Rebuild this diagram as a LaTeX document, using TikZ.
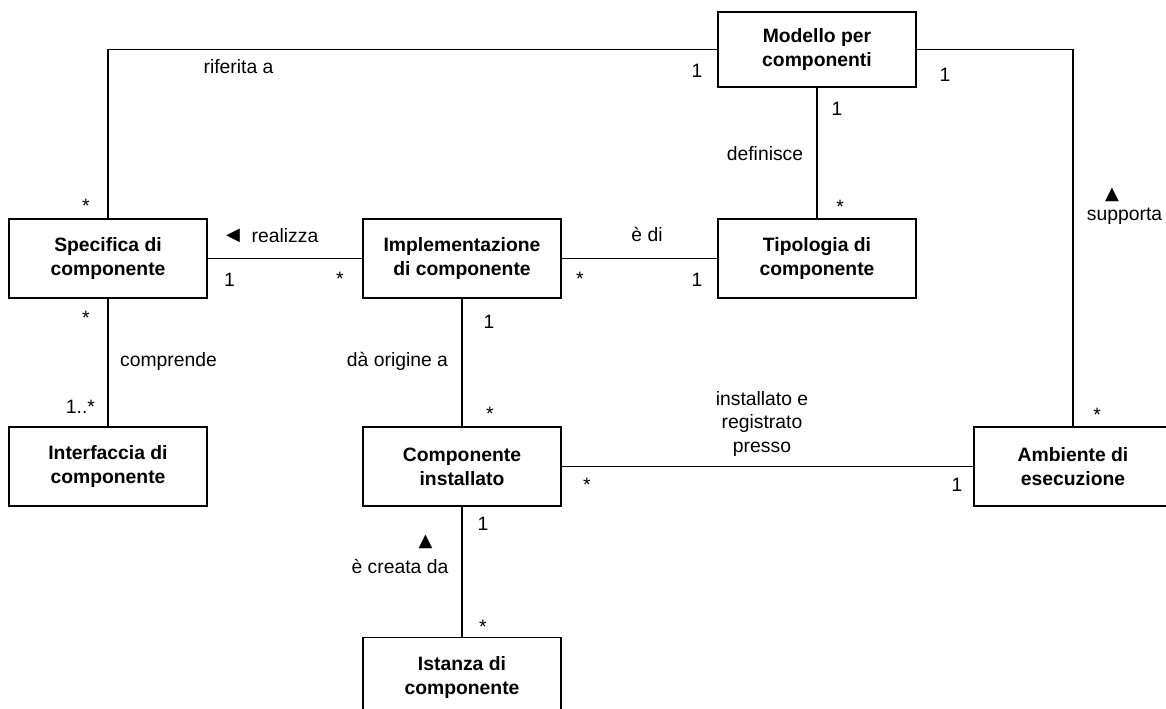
\documentclass[tikz,border=0pt]{standalone}
\usepackage{fontspec}
\setmainfont{Liberation Sans}
\newfontfamily\symfont{DejaVu Sans}
\begin{document}
\begin{tikzpicture}[x=0.75pt,y=-0.75pt,
  box/.style={draw,line width=0.8pt,minimum width=148.5pt,minimum height=59.25pt,inner sep=0pt,align=center,font=\fontsize{14.5}{18}\selectfont\bfseries},
  lbl/.style={inner sep=0pt,anchor=base,font=\fontsize{14.5}{17.6}\selectfont},
  sym/.style={inner sep=0pt,font=\fontsize{13.5}{13.5}\symfont},
  conn/.style={line width=0.8pt}]
\useasboundingbox (0,0) rectangle (1166,708);
% classes
\node[box,minimum height=56.25pt] (mod) at (817,49.5) {Modello per\\componenti};
\node[box] (spec) at (108,258.5) {Specifica di\\componente};
\node[box] (impl) at (462,258.5) {Implementazione\\di componente};
\node[box] (tip) at (817,258.5) {Tipologia di\\componente};
\node[box] (intf) at (108,466.5) {Interfaccia di\\componente};
\node[box] (inst) at (462,466.5) {Componente\\installato};
\node[box] (amb) at (1073,466.5) {Ambiente di\\esecuzione};
\node[box] (ist) at (462,677) {Istanza di\\componente};
% associations
\draw[conn] (spec.north) |- (mod.west);
\draw[conn] (mod.east) -| (amb.north);
\draw[conn] (mod.south) -- (tip.north);
\draw[conn] (spec.east) -- (impl.west);
\draw[conn] (impl.east) -- (tip.west);
\draw[conn] (spec.south) -- (intf.north);
\draw[conn] (impl.south) -- (inst.north);
\draw[conn] (inst.east) -- (amb.west);
\draw[conn] (inst.south) -- (ist.north);
% labels
\node[lbl] (l1) at (238.5,73) {riferita a};
\node[lbl] (m1) at (697,77) {1};
\node[lbl] (m2) at (86,212) {*};
\node[lbl] (m3) at (945,81) {1};
\node[lbl] (m4) at (837,115) {1};
\node[lbl] (l2) at (765,160) {definisce};
\node[lbl] (m5) at (840,213) {*};
\node[lbl] (l3) at (1124.5,220) {supporta};
\node[sym] (t1) at (1112,195) {▲};
\node[lbl] (m6) at (1097,421) {*};
\node[sym] (t2) at (233,235.5) {◀};
\node[lbl] (l4) at (285,242) {realizza};
\node[lbl] (m7) at (229.5,286) {1};
\node[lbl] (m8) at (340,285) {*};
\node[lbl] (l5) at (647,241) {è di};
\node[lbl] (m9) at (580,285) {*};
\node[lbl] (m10) at (697,286) {1};
\node[lbl] (m11) at (86,324) {*};
\node[lbl] (l6) at (168.5,366) {comprende};
\node[lbl] (m12) at (80.5,413) {1..*};
\node[lbl] (m13) at (489,328) {1};
\node[lbl] (l7) at (397.5,366) {dà origine a};
\node[lbl] (m14) at (490,420) {*};
\node[lbl] (l8a) at (762,405) {installato e};
\node[lbl] (l8b) at (762,428.5) {registrato};
\node[lbl] (l8c) at (762,452) {presso};
\node[lbl] (m15) at (587,491) {*};
\node[lbl] (m16) at (957,491) {1};
\node[lbl] (m17) at (483,530) {1};
\node[sym] (t3) at (425.5,542) {▲};
\node[lbl] (l9) at (400,573) {è creata da};
\node[lbl] (m18) at (483,633) {*};
\end{tikzpicture}
\end{document}
